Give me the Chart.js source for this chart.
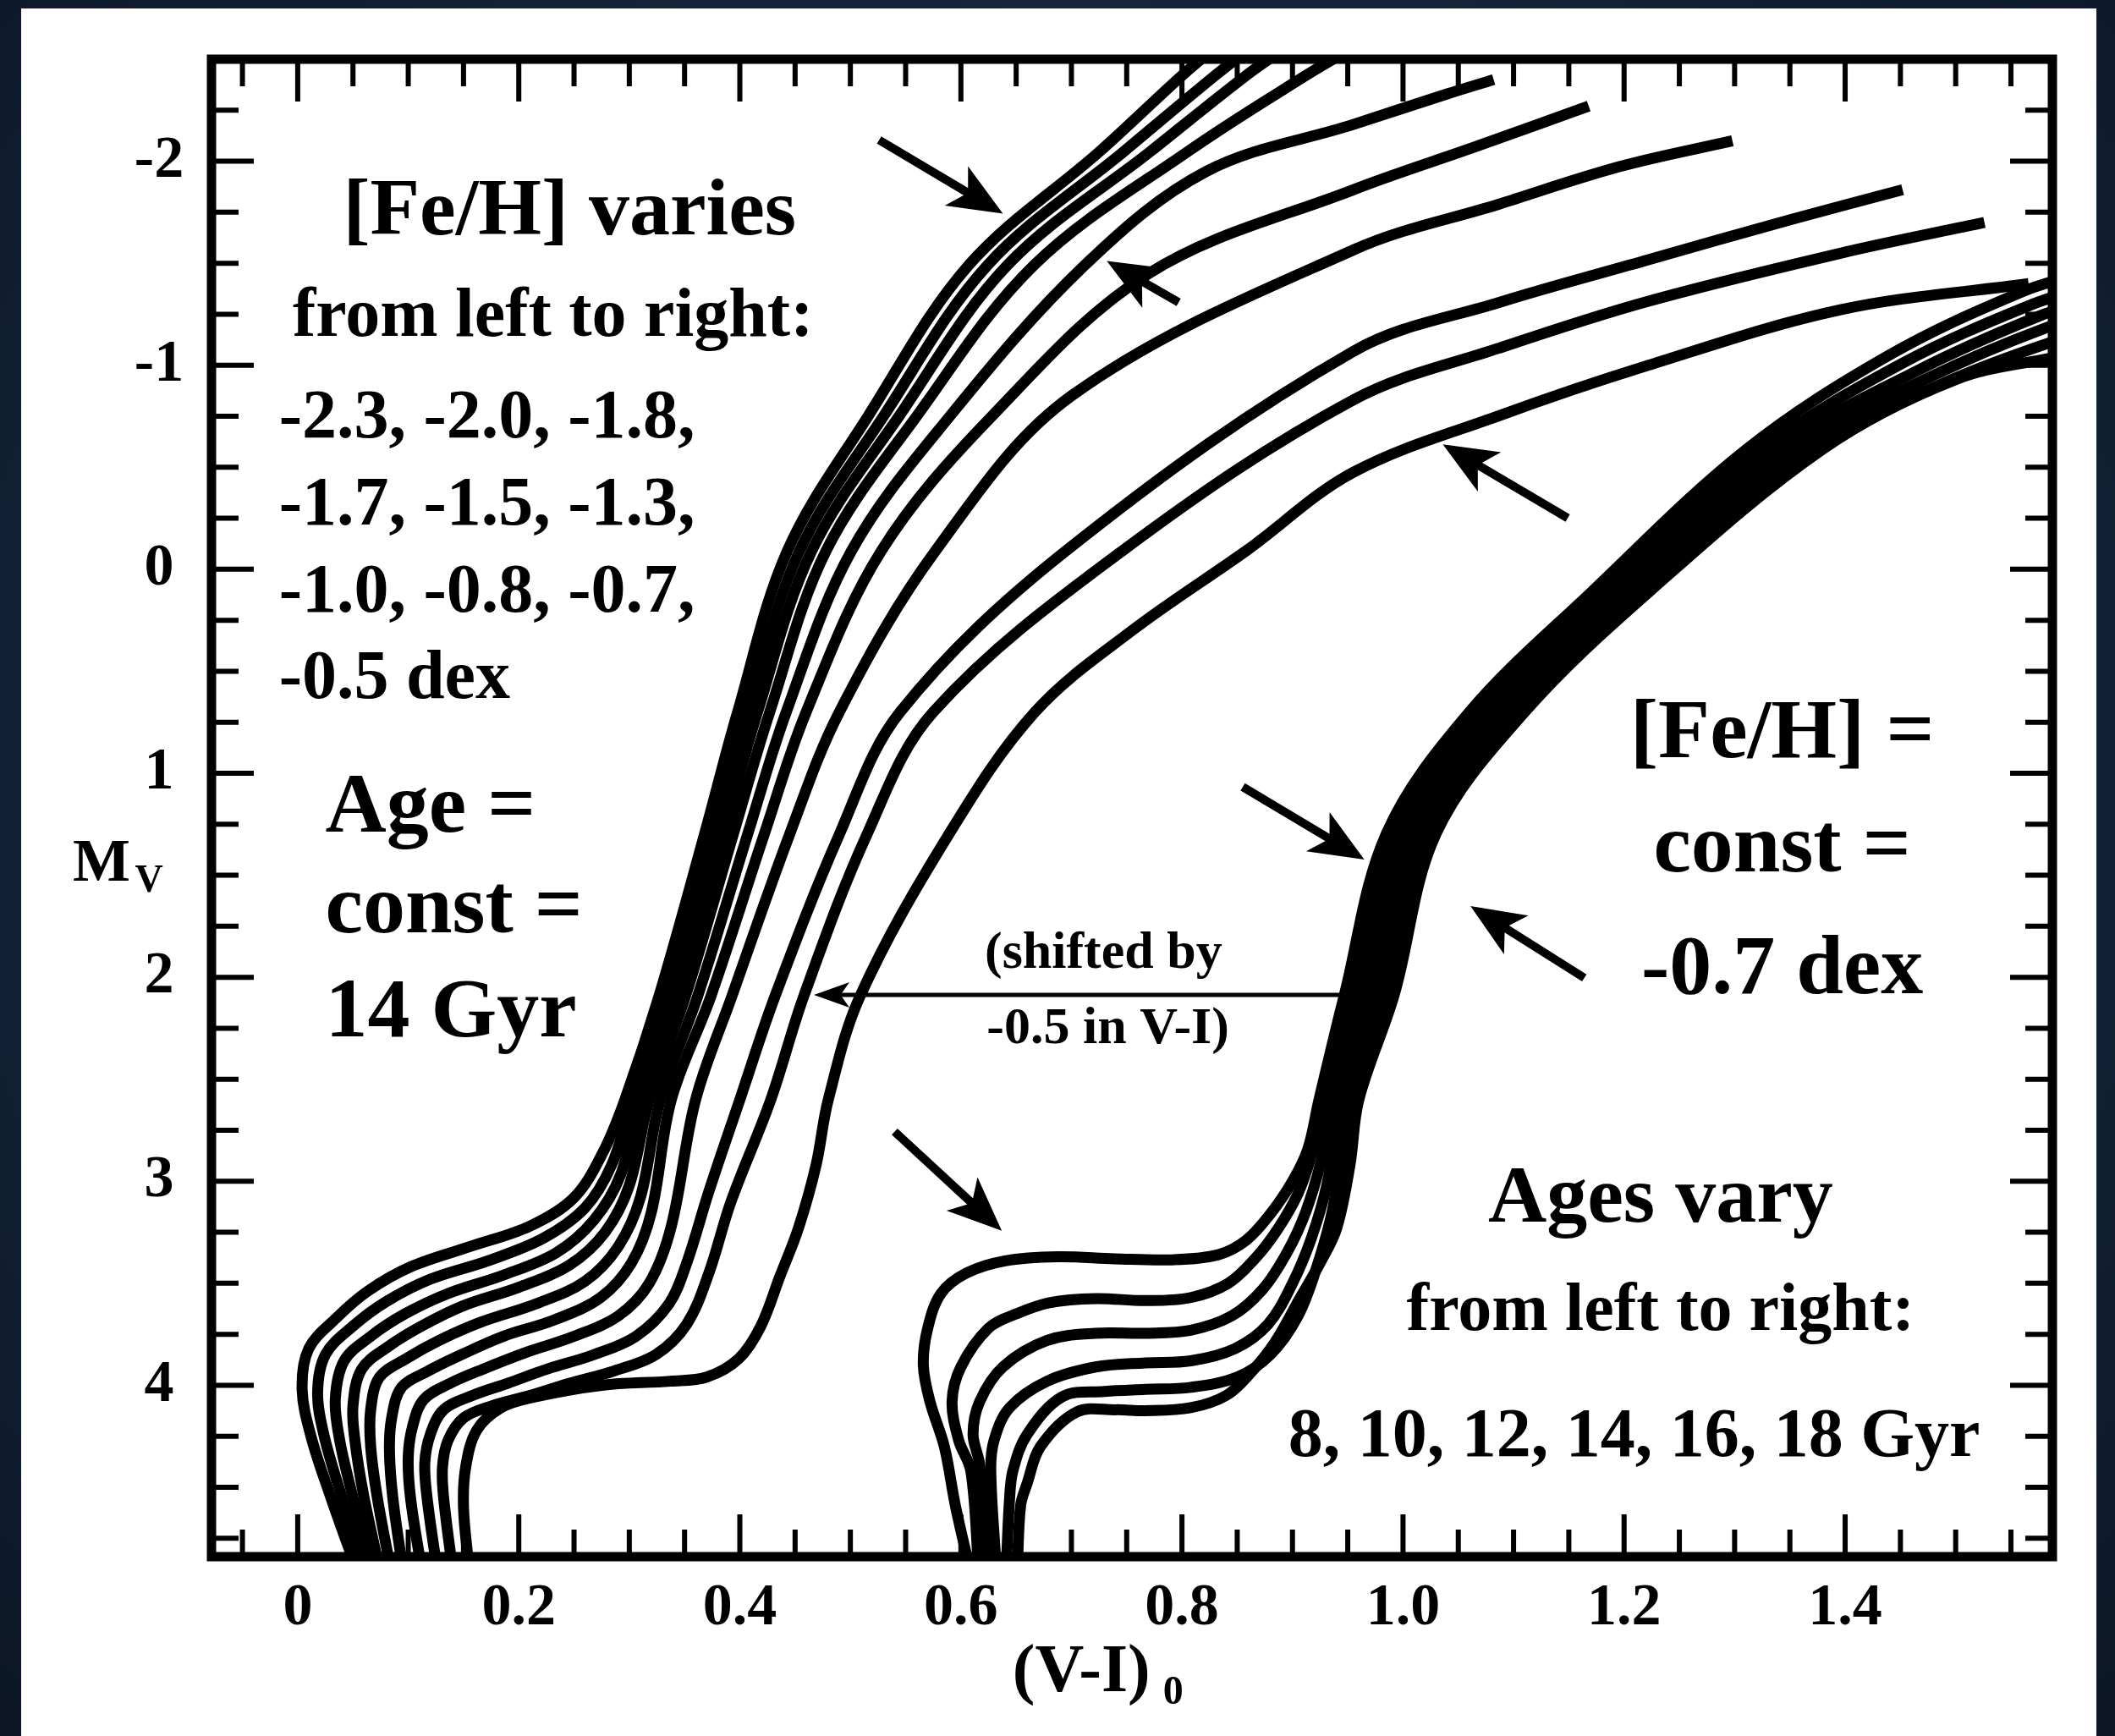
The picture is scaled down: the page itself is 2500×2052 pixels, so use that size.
<!DOCTYPE html>
<html>
<head>
<meta charset="utf-8">
<title>Isochrones: M_V vs (V-I)_0</title>
<script src="https://cdn.jsdelivr.net/npm/chart.js@4.4.1/dist/chart.umd.min.js"></script>
<style>
  html, body { margin: 0; padding: 0; }
  body {
    width: 2500px; height: 2052px; overflow: hidden; position: relative;
    background: #132238;
    background-image: radial-gradient(ellipse at 50% 45%, #1f324c 0%, #15263d 55%, #0c1626 100%);
  }
  .sheet { position: absolute; left: 25px; top: 10px; width: 2453px; height: 2042px; background: #fff; }
  #cmd { position: absolute; left: 0; top: 0; width: 2500px; height: 2052px; }
</style>
</head>
<body>
<div class="sheet"></div>
<canvas id="cmd" width="2500" height="2052"></canvas>
<script>
/* ------------------------------------------------------------
   Isochrones, Age = 14 Gyr, [Fe/H] from -2.3 to -0.5  (left)
   Isochrones, [Fe/H] = -0.7, ages 8..18 Gyr            (right)
   points are [ (V-I)0 , Mv ]
   ------------------------------------------------------------ */
var FEH_M23 = [[0.053,4.90],[0.030,4.55],[0.012,4.25],[0.004,4.02],[0.010,3.82],[0.035,3.67],[0.063,3.54],[0.102,3.42],[0.156,3.32],[0.210,3.22],[0.250,3.08],[0.276,2.86],[0.296,2.60],[0.327,2.09],[0.368,1.30],[0.398,0.70],[0.443,-0.09],[0.516,-0.75],[0.607,-1.49],[0.726,-2.05],[0.800,-2.42],[0.835,-2.58]];
var FEH_M20 = [[0.060,4.90],[0.040,4.55],[0.024,4.25],[0.018,4.04],[0.025,3.85],[0.050,3.71],[0.080,3.59],[0.120,3.48],[0.172,3.39],[0.222,3.28],[0.260,3.13],[0.284,2.92],[0.303,2.60],[0.335,2.09],[0.376,1.30],[0.407,0.70],[0.454,-0.09],[0.530,-0.75],[0.624,-1.49],[0.748,-2.05],[0.830,-2.42],[0.868,-2.58]];
var FEH_M18 = [[0.067,4.90],[0.050,4.55],[0.038,4.27],[0.034,4.07],[0.042,3.88],[0.066,3.76],[0.097,3.65],[0.136,3.55],[0.186,3.46],[0.234,3.35],[0.268,3.19],[0.292,2.97],[0.310,2.60],[0.343,2.09],[0.385,1.30],[0.416,0.70],[0.465,-0.09],[0.544,-0.75],[0.642,-1.49],[0.772,-2.05],[0.858,-2.42],[0.900,-2.58]];
var FEH_M17 = [[0.074,4.90],[0.060,4.55],[0.052,4.28],[0.050,4.10],[0.058,3.92],[0.082,3.81],[0.112,3.71],[0.150,3.61],[0.200,3.52],[0.246,3.41],[0.278,3.25],[0.300,3.02],[0.318,2.60],[0.351,2.09],[0.394,1.30],[0.427,0.70],[0.478,-0.09],[0.560,-0.75],[0.666,-1.49],[0.806,-2.05],[0.912,-2.42],[0.962,-2.58]];
var FEH_M15 = [[0.084,4.90],[0.072,4.55],[0.066,4.30],[0.066,4.12],[0.074,3.96],[0.098,3.87],[0.128,3.78],[0.166,3.69],[0.216,3.60],[0.260,3.49],[0.290,3.32],[0.310,3.08],[0.328,2.60],[0.362,2.09],[0.407,1.30],[0.442,0.70],[0.501,-0.09],[0.590,-0.75],[0.712,-1.49],[0.822,-1.95],[0.955,-2.18],[1.040,-2.33],[1.082,-2.40]];
var FEH_M13 = [[0.095,4.90],[0.086,4.55],[0.083,4.32],[0.085,4.16],[0.094,4.01],[0.118,3.93],[0.148,3.85],[0.186,3.76],[0.232,3.68],[0.274,3.57],[0.302,3.40],[0.320,3.15],[0.338,2.60],[0.374,2.09],[0.422,1.30],[0.460,0.70],[0.528,-0.09],[0.628,-0.75],[0.770,-1.45],[0.955,-1.86],[1.065,-2.07],[1.168,-2.27]];
var FEH_M10 = [[0.112,4.90],[0.102,4.55],[0.100,4.35],[0.104,4.20],[0.114,4.07],[0.138,3.99],[0.168,3.92],[0.206,3.84],[0.250,3.76],[0.290,3.66],[0.318,3.50],[0.338,3.22],[0.360,2.60],[0.393,2.09],[0.445,1.30],[0.490,0.70],[0.577,-0.09],[0.700,-0.85],[0.955,-1.565],[1.087,-1.79],[1.197,-1.975],[1.298,-2.10]];
var FEH_M08 = [[0.126,4.90],[0.117,4.55],[0.115,4.38],[0.120,4.24],[0.132,4.12],[0.158,4.05],[0.190,3.99],[0.226,3.92],[0.268,3.85],[0.306,3.76],[0.336,3.60],[0.352,3.40],[0.372,3.05],[0.400,2.60],[0.432,2.09],[0.490,1.30],[0.545,0.70],[0.695,-0.09],[0.955,-1.068],[1.087,-1.308],[1.218,-1.511],[1.351,-1.714],[1.452,-1.86]];
var FEH_M07 = [[0.140,4.90],[0.132,4.55],[0.131,4.40],[0.136,4.27],[0.150,4.16],[0.176,4.10],[0.210,4.05],[0.246,3.99],[0.286,3.93],[0.324,3.85],[0.352,3.70],[0.372,3.45],[0.392,3.10],[0.428,2.60],[0.458,2.09],[0.515,1.30],[0.575,0.70],[0.746,-0.09],[0.955,-0.83],[1.087,-1.084],[1.218,-1.308],[1.395,-1.548],[1.526,-1.70]];
var FEH_M05 = [[0.155,4.90],[0.150,4.60],[0.152,4.40],[0.162,4.22],[0.184,4.11],[0.212,4.06],[0.275,4.00],[0.337,3.98],[0.370,3.96],[0.399,3.87],[0.419,3.71],[0.436,3.47],[0.453,3.23],[0.469,2.92],[0.480,2.60],[0.509,2.09],[0.589,1.30],[0.667,0.70],[0.755,0.30],[0.858,-0.09],[0.955,-0.475],[1.087,-0.753],[1.218,-0.993],[1.395,-1.271],[1.566,-1.40]];

var AGE_08 = [[0.608,4.90],[0.595,4.59],[0.585,4.30],[0.572,4.08],[0.566,3.90],[0.570,3.72],[0.582,3.55],[0.605,3.45],[0.640,3.39],[0.688,3.37],[0.739,3.38],[0.791,3.385],[0.833,3.36],[0.858,3.29],[0.880,3.16],[0.900,3.00],[0.914,2.84],[0.924,2.60],[0.947,2.086],[0.985,1.295],[1.060,0.70],[1.170,0.114],[1.310,-0.585],[1.440,-1.05],[1.560,-1.36],[1.620,-1.46]];
var AGE_10 = [[0.616,4.90],[0.609,4.42],[0.598,4.27],[0.592,4.08],[0.600,3.91],[0.625,3.72],[0.650,3.65],[0.680,3.595],[0.722,3.575],[0.767,3.585],[0.808,3.57],[0.842,3.50],[0.866,3.38],[0.886,3.24],[0.905,3.06],[0.918,2.86],[0.931,2.60],[0.956,2.086],[0.994,1.295],[1.070,0.70],[1.180,0.114],[1.323,-0.58],[1.452,-1.01],[1.570,-1.30],[1.630,-1.40]];
var AGE_12 = [[0.624,4.90],[0.617,4.39],[0.611,4.24],[0.617,4.08],[0.638,3.91],[0.678,3.78],[0.722,3.745],[0.767,3.745],[0.808,3.73],[0.845,3.66],[0.873,3.53],[0.895,3.35],[0.912,3.15],[0.926,2.90],[0.938,2.60],[0.965,2.086],[1.003,1.295],[1.080,0.70],[1.190,0.114],[1.336,-0.58],[1.464,-0.97],[1.575,-1.24],[1.630,-1.33]];
var AGE_14 = [[0.632,4.90],[0.627,4.42],[0.630,4.27],[0.644,4.11],[0.678,3.98],[0.722,3.91],[0.767,3.89],[0.808,3.88],[0.848,3.82],[0.878,3.70],[0.900,3.50],[0.917,3.28],[0.931,3.02],[0.945,2.60],[0.974,2.086],[1.012,1.295],[1.090,0.70],[1.200,0.114],[1.350,-0.58],[1.476,-0.94],[1.580,-1.18],[1.640,-1.27]];
var AGE_16 = [[0.641,4.90],[0.644,4.56],[0.647,4.42],[0.660,4.24],[0.692,4.055],[0.730,4.03],[0.767,4.02],[0.808,4.01],[0.850,3.96],[0.880,3.85],[0.905,3.66],[0.922,3.42],[0.937,3.12],[0.952,2.60],[0.983,2.086],[1.021,1.295],[1.100,0.70],[1.210,0.114],[1.364,-0.58],[1.488,-0.91],[1.585,-1.11],[1.640,-1.19]];
var AGE_18 = [[0.651,4.90],[0.654,4.59],[0.660,4.48],[0.672,4.30],[0.705,4.13],[0.740,4.12],[0.767,4.125],[0.808,4.11],[0.840,4.05],[0.862,3.94],[0.884,3.79],[0.906,3.58],[0.925,3.40],[0.940,3.23],[0.952,2.92],[0.960,2.60],[0.992,2.086],[1.030,1.295],[1.110,0.70],[1.222,0.114],[1.380,-0.59],[1.500,-0.93],[1.590,-1.04],[1.640,-1.10]];

var FEH_VALUES = ['-2.3','-2.0','-1.8','-1.7','-1.5','-1.3','-1.0','-0.8','-0.7','-0.5'];
var FEH_CURVES = [FEH_M23, FEH_M20, FEH_M18, FEH_M17, FEH_M15, FEH_M13, FEH_M10, FEH_M08, FEH_M07, FEH_M05];
var AGE_VALUES = [8, 10, 12, 14, 16, 18];
var AGE_CURVES = [AGE_08, AGE_10, AGE_12, AGE_14, AGE_16, AGE_18];

// axis ticks
var X_TICKS  = [0, 0.2, 0.4, 0.6, 0.8, 1.0, 1.2, 1.4];
var X_LABELS = ['0', '0.2', '0.4', '0.6', '0.8', '1.0', '1.2', '1.4'];
var Y_TICKS  = [-2, -1, 0, 1, 2, 3, 4];
var Y_LABELS = ['-2', '-1', '0', '1', '2', '3', '4'];
var X_MINOR_STEP = 0.05, Y_MINOR_STEP = 0.25;

// arrows [tailX, tailY, headX, headY] in data units
var ARROWS = [
  [0.526, -2.104, 0.638, -1.743],
  [0.797, -1.308, 0.732, -1.511],
  [1.149, -0.251, 1.036, -0.612],
  [0.855,  1.067, 0.965,  1.423],
  [1.164,  2.003, 1.061,  1.651],
  [0.540,  2.757, 0.637,  3.242]
];
var SHIFT_ARROW = [0.943, 2.086, 0.467, 2.086];

// text blocks: [text, x, y, size, align]
var NOTES = [
  ['[Fe/H] varies',        0.246, -1.743, 96, 'center'],
  ['from left to right:',  0.231, -1.233, 82, 'center'],
  ['-2.3, -2.0, -1.8,',   -0.017, -0.736, 82, 'left'],
  ['-1.7, -1.5, -1.3,',   -0.017, -0.309, 82, 'left'],
  ['-1.0, -0.8, -0.7,',   -0.017,  0.118, 82, 'left'],
  ['-0.5 dex',            -0.017,  0.545, 82, 'left'],
  ['Age =',                0.025,  1.179, 100, 'left'],
  ['const =',              0.025,  1.672, 100, 'left'],
  ['14 Gyr',               0.025,  2.182, 100, 'left'],
  ['[Fe/H] =',             1.343,  0.814, 100, 'center'],
  ['const =',              1.343,  1.373, 100, 'center'],
  ['-0.7 dex',             1.343,  1.970, 100, 'center'],
  ['Ages vary',            1.233,  3.093, 96, 'center'],
  ['from left to right:',  1.233,  3.644, 80, 'center'],
  ['8, 10, 12, 14, 16, 18 Gyr', 1.209, 4.258, 82, 'center'],
  ['(shifted by',          0.729,  1.887, 62, 'center'],
  ['-0.5 in V-I)',         0.733,  2.256, 62, 'center']
];

var FONT = '"Liberation Serif", "Times New Roman", serif';
var CURVE_WIDTH = 13;

function toXY(list) {
  return list.map(function(p) { return { x: p[0], y: p[1] }; });
}

function makeSet(label, pts) {
  return {
    label: label,
    data: toXY(pts),
    showLine: true,
    borderColor: '#000',
    borderWidth: CURVE_WIDTH,
    borderJoinStyle: 'round',
    pointRadius: 0,
    tension: 0.35,
    fill: false,
    clip: 0
  };
}

var datasets = [];
FEH_CURVES.forEach(function(c, i) { datasets.push(makeSet('[Fe/H] = ' + FEH_VALUES[i], c)); });
AGE_CURVES.forEach(function(c, i) { datasets.push(makeSet(AGE_VALUES[i] + ' Gyr', c)); });

function drawArrow(ctx, x0, y0, x1, y1, shaft, headLen, headHalf) {
  var ang = Math.atan2(y1 - y0, x1 - x0);
  var cos = Math.cos(ang), sin = Math.sin(ang);
  var bx = x1 - headLen * cos, by = y1 - headLen * sin;
  ctx.lineWidth = shaft;
  ctx.lineCap = 'butt';
  ctx.beginPath();
  ctx.moveTo(x0, y0);
  ctx.lineTo(bx + headLen * 0.3 * cos, by + headLen * 0.3 * sin);
  ctx.stroke();
  ctx.beginPath();
  ctx.moveTo(x1, y1);
  ctx.lineTo(bx - headHalf * sin, by + headHalf * cos);
  ctx.lineTo(bx + headLen * 0.25 * cos, by + headLen * 0.25 * sin);
  ctx.lineTo(bx + headHalf * sin, by - headHalf * cos);
  ctx.closePath();
  ctx.fill();
}

var decor = {
  id: 'decor',
  afterDatasetsDraw: function(chart) {
    var ctx = chart.ctx, xs = chart.scales.x, ys = chart.scales.y, a = chart.chartArea;
    var px = function(v) { return xs.getPixelForValue(v); };
    var py = function(v) { return ys.getPixelForValue(v); };
    ctx.save();
    ctx.strokeStyle = '#000';
    ctx.fillStyle = '#000';

    // inward ticks on all four sides
    ctx.lineWidth = 6;
    var v, p, len;
    for (v = -0.05; v <= xs.max + 1e-9; v += X_MINOR_STEP) {
      var isMajor = X_TICKS.some(function(t) { return Math.abs(t - v) < 1e-6; });
      len = isMajor ? 50 : 32;
      p = px(v);
      if (p < a.left + 4 || p > a.right - 4) continue;
      ctx.beginPath();
      ctx.moveTo(p, a.bottom); ctx.lineTo(p, a.bottom - len);
      ctx.moveTo(p, a.top);    ctx.lineTo(p, a.top + len);
      ctx.stroke();
    }
    for (v = -2.25; v <= ys.max + 1e-9; v += Y_MINOR_STEP) {
      var isMaj = Y_TICKS.some(function(t) { return Math.abs(t - v) < 1e-6; });
      len = isMaj ? 50 : 32;
      p = py(v);
      if (p < a.top + 4 || p > a.bottom - 4) continue;
      ctx.beginPath();
      ctx.moveTo(a.left, p);  ctx.lineTo(a.left + len, p);
      ctx.moveTo(a.right, p); ctx.lineTo(a.right - len, p);
      ctx.stroke();
    }

    // frame
    ctx.lineWidth = 11;
    ctx.strokeRect(a.left, a.top, a.right - a.left, a.bottom - a.top);

    // tick labels
    ctx.font = 'bold 70px ' + FONT;
    ctx.textAlign = 'center';
    ctx.textBaseline = 'middle';
    X_TICKS.forEach(function(t, i) { ctx.fillText(X_LABELS[i], px(t), a.bottom + 62); });
    Y_TICKS.forEach(function(t, i) { ctx.fillText(Y_LABELS[i], a.left - 62, py(t)); });

    // axis titles
    ctx.font = 'bold 72px ' + FONT;
    ctx.fillText('M', 120, py(1.45));
    ctx.font = 'bold 46px ' + FONT;
    ctx.fillText('V', 176, py(1.45) + 20);
    ctx.font = 'bold 80px ' + FONT;
    ctx.fillText('(V-I)', px(0.709), a.bottom + 138);
    ctx.font = 'bold 48px ' + FONT;
    ctx.fillText('0', px(0.792), a.bottom + 162);

    // annotation text
    NOTES.forEach(function(n) {
      ctx.font = 'bold ' + n[3] + 'px ' + FONT;
      ctx.textAlign = n[4];
      ctx.fillText(n[0], px(n[1]), py(n[2]));
    });

    // arrows
    ARROWS.forEach(function(r) {
      drawArrow(ctx, px(r[0]), py(r[1]), px(r[2]), py(r[3]), 10, 64, 27);
    });
    drawArrow(ctx, px(SHIFT_ARROW[0]), py(SHIFT_ARROW[1]), px(SHIFT_ARROW[2]), py(SHIFT_ARROW[3]), 5, 42, 15);

    ctx.restore();
  }
};

new Chart(document.getElementById('cmd'), {
  type: 'scatter',
  data: { datasets: datasets },
  options: {
    responsive: false,
    animation: false,
    devicePixelRatio: 1,
    layout: { padding: { left: 250, top: 70, right: 74, bottom: 212 } },
    plugins: { legend: { display: false }, tooltip: { enabled: false } },
    scales: {
      x: { type: 'linear', min: -0.078, max: 1.5875, display: false },
      y: { type: 'linear', min: -2.5, max: 4.84, reverse: true, display: false }
    }
  },
  plugins: [decor]
});
</script>
</body>
</html>
